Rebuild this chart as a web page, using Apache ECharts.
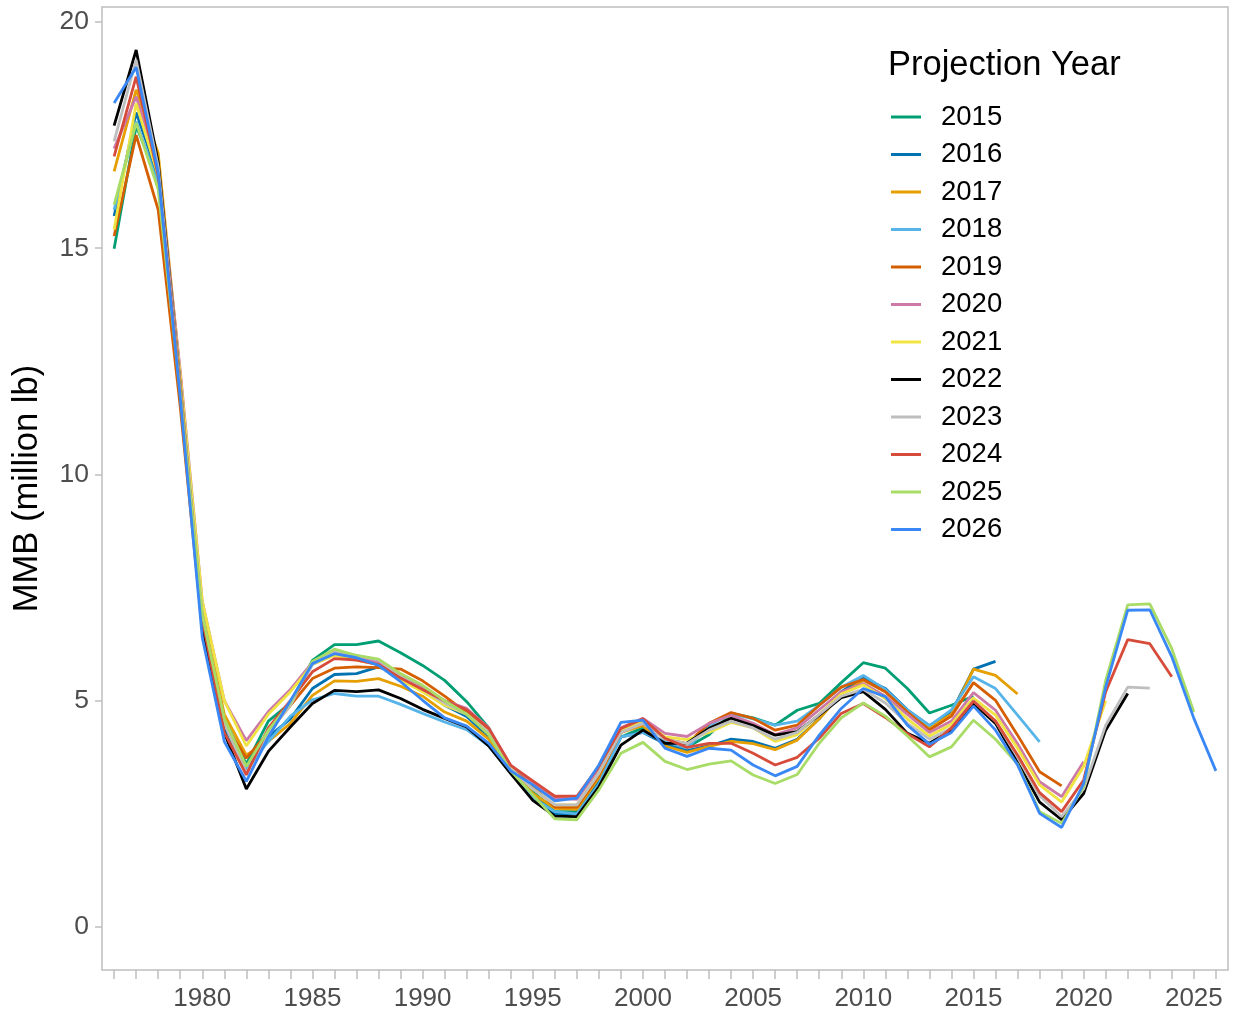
<!DOCTYPE html>
<html>
<head>
<meta charset="utf-8">
<title>MMB by projection year</title>
<script src="https://cdn.jsdelivr.net/npm/echarts@6/dist/echarts.min.js"></script>
<style>
  html, body { margin: 0; padding: 0; background: #fff; }
  #main { width: 1235px; height: 1015px; }
</style>
</head>
<body>
<div id="main"></div>
<script>
// model years on the x axis
var years = [1976, 1977, 1978, 1979, 1980, 1981, 1982, 1983, 1984, 1985,
             1986, 1987, 1988, 1989, 1990, 1991, 1992, 1993, 1994, 1995,
             1996, 1997, 1998, 1999, 2000, 2001, 2002, 2003, 2004, 2005,
             2006, 2007, 2008, 2009, 2010, 2011, 2012, 2013, 2014, 2015,
             2016, 2017, 2018, 2019, 2020, 2021, 2022, 2023, 2024, 2025, 2026];

var xTicks = [1980, 1985, 1990, 1995, 2000, 2005, 2010, 2015, 2020, 2025];
var yTicks = [0, 5, 10, 15, 20];

// one array per projection year, starting at 1976
var mmb2015 = [14.99, 17.7, 16.5, 11.8, 6.7, 4.6, 3.6, 4.55, 4.95, 5.89,
  6.24, 6.24, 6.32, 6.06, 5.78, 5.45, 4.98, 4.4, 3.5, 3.0,
  2.55, 2.55, 3.3, 4.2, 4.4, 4.04, 3.97, 4.25, 4.72, 4.62,
  4.46, 4.79, 4.94, 5.4, 5.84, 5.72, 5.27, 4.73, 4.9, 5.1];
var mmb2016 = [15.71, 18.0, 16.6, 11.9, 6.8, 4.4, 3.45, 4.2, 4.6, 5.27,
  5.58, 5.6, 5.75, 5.55, 5.25, 4.9, 4.65, 4.2, 3.45, 2.9,
  2.5, 2.5, 3.2, 4.2, 4.3, 4.05, 3.9, 4.0, 4.15, 4.1,
  3.95, 4.15, 4.6, 5.2, 5.5, 5.27, 4.8, 4.45, 4.75, 5.7, 5.87];
var mmb2017 = [16.7, 18.5, 17.1, 12.2, 7.0, 4.7, 3.8, 4.1, 4.5, 5.12,
  5.44, 5.43, 5.49, 5.32, 5.1, 4.75, 4.55, 4.15, 3.45, 2.95,
  2.62, 2.6, 3.3, 4.3, 4.45, 4.0, 3.86, 3.99, 4.1, 4.05,
  3.92, 4.13, 4.6, 5.15, 5.45, 5.2, 4.75, 4.4, 4.7, 5.7, 5.56, 5.15];
var mmb2018 = [15.85, 17.8, 16.4, 11.8, 6.8, 4.5, 3.5, 4.1, 4.66, 5.02,
  5.16, 5.1, 5.1, 4.92, 4.72, 4.53, 4.36, 4.0, 3.4, 2.85,
  2.55, 2.5, 3.15, 4.2, 4.3, 4.1, 3.95, 4.45, 4.72, 4.6,
  4.46, 4.55, 4.9, 5.3, 5.56, 5.25, 4.79, 4.45, 4.8, 5.53, 5.27, 4.68, 4.09];
var mmb2019 = [15.27, 17.5, 15.85, 11.5, 6.6, 4.5, 3.73, 4.3, 4.9, 5.49,
  5.72, 5.75, 5.73, 5.7, 5.44, 5.1, 4.74, 4.35, 3.55, 3.1,
  2.65, 2.65, 3.35, 4.3, 4.5, 4.15, 4.05, 4.5, 4.74, 4.61,
  4.35, 4.46, 4.9, 5.3, 5.47, 5.2, 4.75, 4.35, 4.66, 5.4, 5.01, 4.24, 3.43, 3.12];
var mmb2020 = [17.2, 18.35, 16.8, 12.3, 7.2, 5.0, 4.12, 4.76, 5.25, 5.85,
  6.1, 5.95, 5.85, 5.5, 5.3, 5.0, 4.83, 4.4, 3.57, 3.2,
  2.85, 2.82, 3.5, 4.4, 4.61, 4.28, 4.21, 4.5, 4.68, 4.5,
  4.25, 4.4, 4.8, 5.2, 5.38, 5.1, 4.7, 4.3, 4.55, 5.18, 4.79, 4.05, 3.21, 2.88, 3.65];
var mmb2021 = [15.41, 18.2, 16.6, 12.2, 7.2, 5.0, 4.0, 4.7, 5.2, 5.8,
  6.0, 5.9, 5.8, 5.45, 5.2, 4.9, 4.7, 4.3, 3.5, 3.05,
  2.7, 2.7, 3.4, 4.35, 4.55, 4.2, 4.14, 4.3, 4.52, 4.4,
  4.1, 4.25, 4.7, 5.15, 5.35, 5.05, 4.6, 4.22, 4.48, 5.06, 4.68, 3.95, 3.14, 2.76, 3.55, 5.0];
var mmb2022 = [17.71, 19.38, 16.9, 12.0, 6.6, 4.3, 3.05, 3.88, 4.42, 4.94,
  5.23, 5.2, 5.24, 5.05, 4.81, 4.61, 4.42, 4.0, 3.39, 2.8,
  2.45, 2.44, 3.1, 4.02, 4.35, 4.06, 4.06, 4.39, 4.61, 4.45,
  4.24, 4.32, 4.68, 5.07, 5.2, 4.81, 4.28, 4.06, 4.35, 4.94, 4.5, 3.65, 2.76, 2.37, 2.95, 4.35, 5.16];
var mmb2023 = [17.36, 19.16, 16.8, 12.0, 6.9, 4.5, 3.4, 4.3, 4.9, 5.8,
  6.1, 6.0, 5.9, 5.55, 5.25, 4.95, 4.7, 4.3, 3.5, 3.05,
  2.7, 2.7, 3.4, 4.3, 4.5, 4.15, 4.05, 4.35, 4.55, 4.4,
  4.15, 4.3, 4.7, 5.1, 5.25, 4.95, 4.5, 4.15, 4.4, 5.0, 4.55, 3.75, 2.9, 2.44, 3.05, 4.46, 5.3, 5.28];
var mmb2024 = [17.03, 18.79, 16.6, 11.9, 6.8, 4.3, 3.36, 4.4, 5.0, 5.64,
  5.93, 5.9, 5.8, 5.5, 5.25, 5.0, 4.8, 4.39, 3.57, 3.23,
  2.89, 2.89, 3.55, 4.39, 4.6, 4.17, 3.97, 4.06, 4.06, 3.84,
  3.58, 3.75, 4.17, 4.72, 4.94, 4.63, 4.27, 3.98, 4.4, 4.99, 4.55, 3.8, 2.97, 2.55, 3.25, 5.2, 6.35, 6.26, 5.53];
var mmb2025 = [15.96, 17.77, 16.3, 11.8, 6.9, 4.6, 3.55, 4.35, 4.95, 5.87,
  6.14, 6.0, 5.92, 5.6, 5.34, 5.0, 4.7, 4.25, 3.45, 2.92,
  2.39, 2.37, 3.03, 3.84, 4.08, 3.66, 3.48, 3.6, 3.67, 3.36,
  3.17, 3.37, 4.06, 4.62, 4.95, 4.66, 4.22, 3.76, 3.98, 4.57, 4.15, 3.6, 2.55, 2.29, 3.1, 5.45, 7.12, 7.14, 6.15, 4.75];
var mmb2026 = [18.21, 19.0, 16.67, 11.7, 6.4, 4.1, 3.22, 4.2, 5.0, 5.82,
  6.04, 5.95, 5.78, 5.42, 5.01, 4.62, 4.44, 4.06, 3.45, 3.14,
  2.79, 2.85, 3.58, 4.52, 4.57, 3.95, 3.77, 3.95, 3.91, 3.58,
  3.34, 3.55, 4.24, 4.83, 5.27, 5.09, 4.46, 4.04, 4.3, 4.88, 4.35, 3.58, 2.51, 2.2, 3.17, 5.3, 7.0, 7.01, 5.97, 4.61, 3.45];

var projNames = ['2015', '2016', '2017', '2018', '2019', '2020',
                 '2021', '2022', '2023', '2024', '2025', '2026'];
var projData = [mmb2015, mmb2016, mmb2017, mmb2018, mmb2019, mmb2020,
                mmb2021, mmb2022, mmb2023, mmb2024, mmb2025, mmb2026];
var projColors = ['#009E73', '#0072B2', '#E69F00', '#56B4E9', '#D55E00', '#CC79A7',
                  '#F0E442', '#000000', '#BEBEBE', '#D64B3A', '#A8DC66', '#3A88F5'];

var FONT = "'Liberation Sans', Arial, sans-serif";

//build line series
var seriesList = [];
for (var i = 0; i < projNames.length; i++) {
    var pts = [];
    for (var j = 0; j < projData[i].length; j++) {
        pts.push([years[j], projData[i][j]]);
    }
    seriesList.push({
        name: projNames[i],
        type: 'line',
        data: pts,
        symbol: 'none',
        showSymbol: false,
        lineStyle: { width: 2.8, color: projColors[i] },
        itemStyle: { color: projColors[i] },
        z: 2 + i
    });
}

var option = {
    animation: false,
    backgroundColor: '#fff',
    color: projColors,
    title: {
        text: 'Projection Year',
        left: 883,
        top: 43,
        textStyle: { fontFamily: FONT, fontSize: 34.5, fontWeight: 'normal', color: '#000' }
    },
    legend: {
        orient: 'vertical',
        left: 886,
        top: 97,
        icon: 'rect',
        itemWidth: 30,
        itemHeight: 3,
        itemGap: 7.5,
        data: projNames,
        textStyle: {
            fontFamily: FONT, fontSize: 27.5, color: '#000',
            lineHeight: 30, padding: [0, 0, 0, 15]
        }
    },
    grid: {
        left: 102,
        right: 7,
        top: 7,
        bottom: 45,
        show: true,
        borderColor: '#BEBEBE',
        borderWidth: 1.5,
        containLabel: false,
        outerBoundsMode: 'none'
    },
    xAxis: {
        type: 'value',
        min: 1975.45,
        max: 2026.55,
        splitLine: { show: false },
        axisLine: { show: false, onZero: false },
        axisTick: {
            show: true,
            length: 9,
            lineStyle: { color: '#BEBEBE', width: 1.5 },
            customValues: years
        },
        axisLabel: {
            fontFamily: FONT, fontSize: 26, color: '#4D4D4D',
            margin: 16,
            customValues: xTicks,
            formatter: function (v) { return String(v); }
        }
    },
    yAxis: {
        type: 'value',
        min: -0.95,
        max: 20.33,
        name: 'MMB (million lb)',
        nameLocation: 'middle',
        nameRotate: 90,
        nameGap: 57,
        nameTextStyle: { fontFamily: FONT, fontSize: 34.5, color: '#000' },
        splitLine: { show: false },
        axisLine: { show: false, onZero: false },
        axisTick: {
            show: true,
            length: 7,
            lineStyle: { color: '#BEBEBE', width: 1.5 },
            customValues: yTicks
        },
        axisLabel: {
            fontFamily: FONT, fontSize: 26.5, color: '#4D4D4D',
            margin: 13,
            customValues: yTicks
        }
    },
    series: seriesList
};

var chart = echarts.init(document.getElementById('main'));
chart.setOption(option);
</script>
</body>
</html>
